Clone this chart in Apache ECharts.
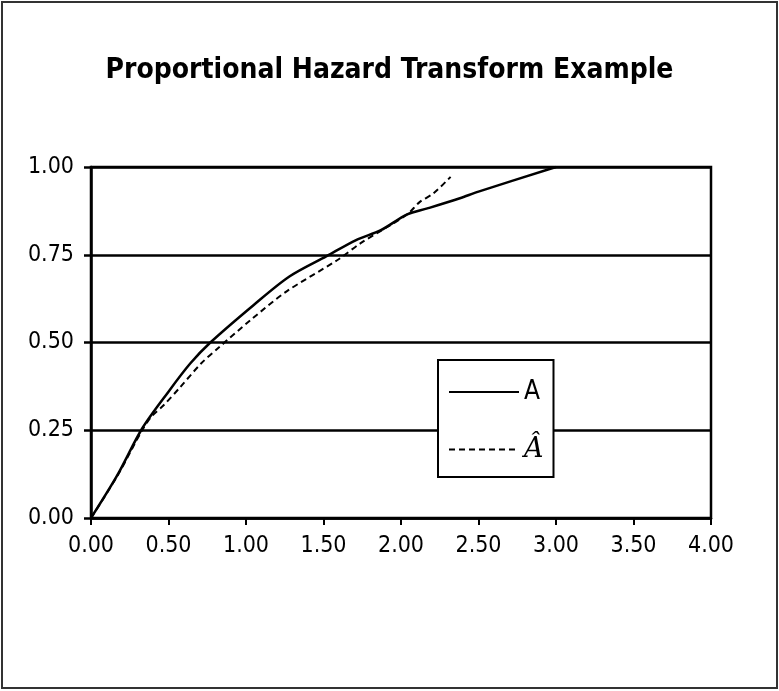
<!DOCTYPE html>
<html>
<head>
<meta charset="utf-8">
<script src="https://cdn.jsdelivr.net/npm/echarts@6/dist/echarts.min.js"></script>
<style>
	html, body { margin: 0; padding: 0; background: #fff; }
	#chart { width: 779px; height: 691px; }
</style>
</head>
<body>
<div id="chart"></div>
<script>
	// curve A (solid)
	var aX = [0, 0.17, 0.33, 0.50, 0.64, 0.77, 1.05, 1.28, 1.52, 1.71, 1.87, 2.04, 2.17, 2.38, 2.50, 3.00];
	var aY = [0, 0.122, 0.255, 0.36, 0.44, 0.50, 0.607, 0.688, 0.746, 0.792, 0.82, 0.865, 0.882, 0.911, 0.93, 1.00];
	// curve A-hat (dashed)
	var hX = [0, 0.17, 0.33, 0.39, 0.47, 0.57, 0.71, 0.83, 1.03, 1.26, 1.59, 1.74, 2.04, 2.12, 2.21, 2.32];
	var hY = [0, 0.12, 0.25, 0.289, 0.322, 0.37, 0.44, 0.488, 0.564, 0.645, 0.735, 0.783, 0.865, 0.90, 0.925, 0.972];
	var xTicks = [0, 0.5, 1, 1.5, 2, 2.5, 3, 3.5, 4];
	var yTicks = [0, 0.25, 0.5, 0.75, 1];

	var narrow = "'DejaVu Sans Condensed', 'Liberation Sans Narrow', sans-serif";

	function pairs(xs, ys){
		return xs.map(function(x, i){ return [x, ys[i]]; });
	}

	var chart = echarts.init(document.getElementById('chart'));
	chart.setOption({
		animation: false,
		backgroundColor: '#fff',
		title: {
			text: 'Proportional Hazard Transform Example',
			left: 'center',
			top: 52,
			textStyle: { fontFamily: narrow, fontWeight: 'bold', fontSize: 28, color: '#000' }
		},
		graphic: [{
			type: 'rect',
			shape: { x: 2, y: 2, width: 775, height: 686 },
			style: { fill: 'none', stroke: '#333', lineWidth: 2 },
			silent: true
		}],
		legend: {
			orient: 'vertical',
			left: 438,
			top: 360,
			padding: [19, 10, 14, 10],
			itemWidth: 70,
			itemHeight: 26,
			itemGap: 31,
			backgroundColor: '#fff',
			borderColor: '#000',
			borderWidth: 2,
			borderRadius: 0,
			itemStyle: { color: 'rgba(0,0,0,0)', borderWidth: 0 },
			textStyle: { fontFamily: narrow, fontSize: 26, color: '#000' },
			data: [
				{ name: 'A' },
				{ name: 'Â', textStyle: { fontStyle: 'italic', fontFamily: "'DejaVu Serif', serif", fontSize: 27 } }
			]
		},
		grid: { left: 91, right: 68, top: 167, bottom: 173, show: true, borderColor: '#000', borderWidth: 2.5 },
		xAxis: {
			type: 'value',
			min: 0, max: 4, interval: 0.5,
			axisLine: { show: true, onZero: false, lineStyle: { color: '#000', width: 2.5 } },
			axisTick: { show: true, inside: false, length: 7, lineStyle: { color: '#000', width: 2 } },
			splitLine: { show: false },
			axisLabel: {
				margin: 17,
				fontFamily: narrow, fontSize: 23, color: '#000',
				formatter: function(v){ return xTicks.indexOf(v) >= 0 ? v.toFixed(2) : ''; }
			}
		},
		yAxis: {
			type: 'value',
			min: 0, max: 1, interval: 0.25,
			axisLine: { show: true, lineStyle: { color: '#000', width: 2.5 } },
			axisTick: { show: true, inside: false, length: 7, lineStyle: { color: '#000', width: 2.5 } },
			splitLine: { show: true, lineStyle: { color: '#000', width: 2.5 } },
			axisLabel: {
				margin: 17,
				fontFamily: narrow, fontSize: 23, color: '#000',
				formatter: function(v){ return yTicks.indexOf(v) >= 0 ? v.toFixed(2) : ''; }
			}
		},
		series: [{
			name: 'A',
			type: 'line',
			symbol: 'none',
			smooth: 0.3,
			z: 3,
			itemStyle: { color: '#000' },
			lineStyle: { color: '#000', width: 2.5, type: 'solid' },
			data: pairs(aX, aY)
		}, {
			name: 'Â',
			type: 'line',
			symbol: 'none',
			smooth: 0.3,
			z: 3,
			itemStyle: { color: '#000' },
			lineStyle: { color: '#000', width: 2, type: [6, 4] },
			data: pairs(hX, hY)
		}]
	});
	window.addEventListener('resize', function(){ chart.resize(); });
</script>
</body>
</html>
